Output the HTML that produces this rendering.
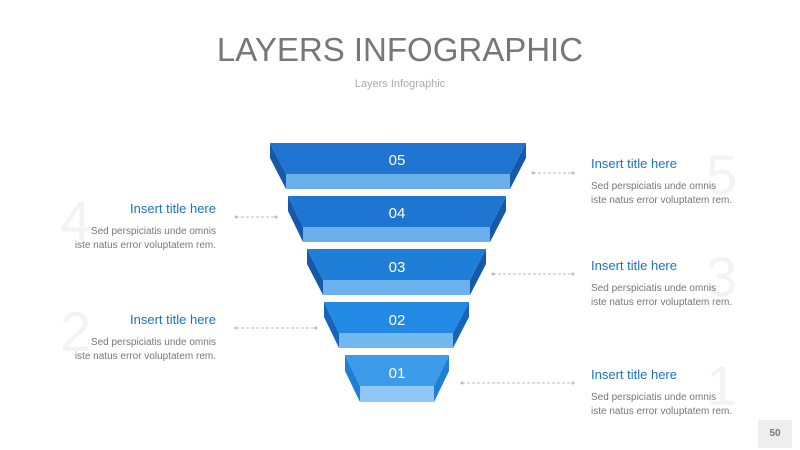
<!DOCTYPE html><html><head><style>
body{margin:0;width:800px;height:450px;background:#fff;position:relative;overflow:hidden;font-family:"Liberation Sans",sans-serif}
.t{position:absolute;font-size:13px;color:#1a73c8}
.d{position:absolute;font-size:10px;color:#777;line-height:14px;white-space:nowrap}
.r{text-align:right}
.n{position:absolute;font-size:56px;color:#f3f3f3;font-weight:300}
</style></head><body>
<div style="position:absolute;top:31px;width:800px;text-align:center;font-size:33px;color:#777">LAYERS INFOGRAPHIC</div>
<div style="position:absolute;top:78px;width:800px;text-align:center;font-size:11px;color:#aaa">Layers Infographic</div>
<div class="n" style="left:706px;top:142px">5</div>
<div class="n" style="left:706px;top:244px">3</div>
<div class="n" style="left:706px;top:353px">1</div>
<div class="n" style="left:60px;top:188px">4</div>
<div class="n" style="left:60px;top:299px">2</div>
<svg width="800" height="450" style="position:absolute;left:0;top:0">
<g font-family="Liberation Sans" font-size="15" fill="#fff" text-anchor="middle">
<polygon points="270,143 286,174 286,189 270,158" fill="#1559a8"/><polygon points="526,143 510,174 510,189 526,158" fill="#1559a8"/>
<polygon points="270,143 526,143 510,174 286,174" fill="#1e74d0"/><rect x="286" y="174" width="224" height="15" fill="#6aaeea"/><text x="397" y="165">05</text>
<polygon points="288,196 303,227 303,242 288,211" fill="#1559a8"/><polygon points="506,196 490,227 490,242 506,211" fill="#1559a8"/>
<polygon points="288,196 506,196 490,227 303,227" fill="#1e76d2"/><rect x="303" y="227" width="187" height="15" fill="#6aaeea"/><text x="397" y="218">04</text>
<polygon points="307,249 323,280 323,295 307,264" fill="#1559a8"/><polygon points="486,249 470,280 470,295 486,264" fill="#1559a8"/>
<polygon points="307,249 486,249 470,280 323,280" fill="#1f7ed8"/><rect x="323" y="280" width="147" height="15" fill="#6cb0ec"/><text x="397" y="272">03</text>
<polygon points="324,302 339,333 339,348 324,317" fill="#1665b8"/><polygon points="469,302 453,333 453,348 469,317" fill="#1665b8"/>
<polygon points="324,302 469,302 453,333 339,333" fill="#2289e4"/><rect x="339" y="333" width="114" height="15" fill="#74b8f0"/><text x="397" y="325">02</text>
<polygon points="345,355 360,386 360,402 345,371" fill="#1f7ed8"/><polygon points="449,355 434,386 434,402 449,371" fill="#1f7ed8"/>
<polygon points="345,355 449,355 434,386 360,386" fill="#3b9be9"/><rect x="360" y="386" width="74" height="16" fill="#8fc8f6"/><text x="397" y="378">01</text>
</g>
<g stroke="#bbb" stroke-dasharray="3,2" fill="#bbb">
<line x1="533" y1="173" x2="573" y2="173"/><line x1="236" y1="217" x2="276" y2="217"/>
<line x1="493" y1="274" x2="573" y2="274"/><line x1="236" y1="328" x2="316" y2="328"/>
<line x1="462" y1="383" x2="573" y2="383"/>
</g>
<g fill="#bbb"><circle cx="533" cy="173" r="1.5"/><circle cx="573" cy="173" r="1.5"/><circle cx="236" cy="217" r="1.5"/><circle cx="276" cy="217" r="1.5"/><circle cx="493" cy="274" r="1.5"/><circle cx="573" cy="274" r="1.5"/><circle cx="236" cy="328" r="1.5"/><circle cx="316" cy="328" r="1.5"/><circle cx="462" cy="383" r="1.5"/><circle cx="573" cy="383" r="1.5"/></g>
</svg>
<div class="t" style="left:591px;top:156px">Insert title here</div>
<div class="d" style="left:591px;top:180px">Sed perspiciatis unde omnis<br>iste natus error voluptatem rem.</div>
<div class="t" style="left:591px;top:258px">Insert title here</div>
<div class="d" style="left:591px;top:282px">Sed perspiciatis unde omnis<br>iste natus error voluptatem rem.</div>
<div class="t" style="left:591px;top:367px">Insert title here</div>
<div class="d" style="left:591px;top:391px">Sed perspiciatis unde omnis<br>iste natus error voluptatem rem.</div>
<div class="t r" style="right:584px;top:201px">Insert title here</div>
<div class="d r" style="right:584px;top:225px">Sed perspiciatis unde omnis<br>iste natus error voluptatem rem.</div>
<div class="t r" style="right:584px;top:312px">Insert title here</div>
<div class="d r" style="right:584px;top:336px">Sed perspiciatis unde omnis<br>iste natus error voluptatem rem.</div>
<div style="position:absolute;left:758px;top:420px;width:34px;height:28px;background:#eee;color:#777;font-size:10px;font-weight:bold;text-align:center;line-height:28px">50</div>
</body></html>
